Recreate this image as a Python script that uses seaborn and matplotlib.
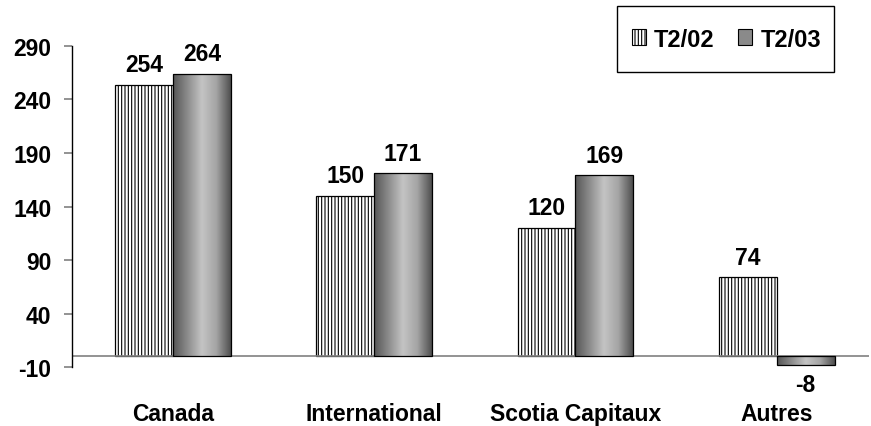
import matplotlib
matplotlib.use("Agg")
import matplotlib.pyplot as plt
import matplotlib.patches as mpatches
from matplotlib.colors import LinearSegmentedColormap
import seaborn as sns
import numpy as np
import pandas as pd

categories = ["Canada", "International", "Scotia Capitaux", "Autres"]
periods = ["T2/02", "T2/03"]
t2_02 = [254, 150, 120, 74]
t2_03 = [264, 171, 169, -8]
yticks = [-10, 40, 90, 140, 190, 240, 290]

df = pd.DataFrame({
    "cat": categories * 2,
    "period": [periods[0]] * 4 + [periods[1]] * 4,
    "val": t2_02 + t2_03,
})

sns.set_style("white")
plt.rcParams["font.family"] = ["Liberation Sans", "DejaVu Sans"]
plt.rcParams["text.color"] = "black"
plt.rcParams["hatch.linewidth"] = 0.8
FS = 16.5

fig = plt.figure(figsize=(8.71, 4.27), dpi=100)
ax = fig.add_axes([0.083, 0.138, 0.915, 0.752])

sns.barplot(data=df, x="cat", y="val", hue="period", order=categories,
            hue_order=periods, width=0.575, ax=ax, legend=False,
            palette=["white", "#909090"], saturation=1)

# cylinder-like gradient for the second series
cyl = LinearSegmentedColormap.from_list(
    "cyl", ["#555555", "#8c8c8c", "#c4c4c4", "#a4a4a4", "#4e4e4e"])
grad = np.linspace(0, 1, 256).reshape(1, -1)

for bar in ax.containers[0]:
    bar.set_facecolor("white")
    bar.set_edgecolor("black")
    bar.set_linewidth(0.9)
    bar.set_hatch("|||||")

for bar in ax.containers[1]:
    bar.set_facecolor("none")
    bar.set_edgecolor("black")
    bar.set_linewidth(0.9)
    bar.set_zorder(3)
    x0, y0 = bar.get_x(), bar.get_y()
    w, h = bar.get_width(), bar.get_height()
    im = ax.imshow(grad, cmap=cyl, aspect="auto", zorder=2,
                   extent=[x0, x0 + w, min(y0, y0 + h), max(y0, y0 + h)])
    im.set_clip_path(bar)

# value labels
for cont in ax.containers:
    for bar in cont:
        v = bar.get_height()
        xc = bar.get_x() + bar.get_width() / 2
        if v >= 0:
            ax.text(xc, v + 8, f"{v:.0f}", ha="center", va="bottom",
                    fontsize=FS, fontweight="bold", color="black")
        else:
            ax.text(xc, v - 8, f"{v:.0f}", ha="center", va="top",
                    fontsize=FS, fontweight="bold", color="black")

ax.axhline(0, color="#808080", lw=1.2, zorder=1)

ax.set_ylim(-10, 290)
ax.set_xlim(-0.5, 3.46)
ax.set_yticks(yticks)
ax.set_yticklabels([str(t) for t in yticks], fontsize=FS, fontweight="bold")
ax.set_xticks(range(len(categories)))
ax.set_xticklabels(categories, fontsize=FS, fontweight="bold")
ax.set_xlabel("")
ax.set_ylabel("")

for s in ["top", "right", "bottom"]:
    ax.spines[s].set_visible(False)
ax.spines["left"].set_color("black")
ax.spines["left"].set_linewidth(1.0)
ax.tick_params(axis="y", which="both", left=True, length=6, width=1.2,
               color="#808080", direction="out", pad=9, labelcolor="black")
ax.tick_params(axis="x", length=0, pad=25, labelcolor="black")

# legend box drawn separately so the padding can differ per direction
box = mpatches.Rectangle((0.7084, 0.829), 0.249, 0.1546, transform=fig.transFigure,
                         facecolor="white", edgecolor="black", lw=1.0)
fig.patches.append(box)

handles = [
    mpatches.Patch(facecolor="white", edgecolor="black", hatch="|||||", lw=0.8),
    mpatches.Patch(facecolor="#8a8a8a", edgecolor="black", lw=0.8),
]
leg = fig.legend(handles, periods, loc="center",
                 bbox_to_anchor=(0.834, 0.906), frameon=False,
                 ncol=2, prop={"weight": "bold", "size": 17},
                 handlelength=0.6, handleheight=0.68, handletextpad=0.34,
                 columnspacing=1.0, borderpad=0, borderaxespad=0)

fig.savefig("out.png", dpi=100)
